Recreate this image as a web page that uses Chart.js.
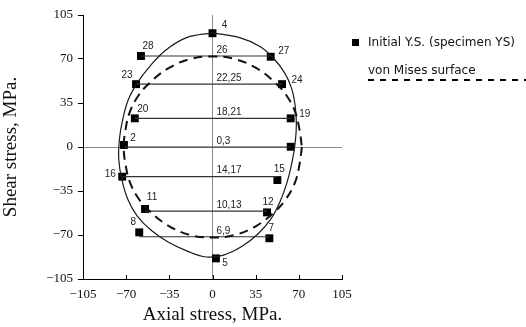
<!DOCTYPE html>
<html>
<head>
<meta charset="utf-8">
<script src="https://cdn.jsdelivr.net/npm/chart.js@4/dist/chart.umd.min.js"></script>
<style>
  html, body { margin: 0; padding: 0; background: #fff; }
  #wrap { width: 526px; height: 327px; position: relative; }
</style>
</head>
<body>
<div id="wrap"><canvas id="c" width="526" height="327"></canvas></div>
<script>
// ---- data ----
const axisTicks = [-105, -70, -35, 0, 35, 70, 105];

// Initial yield points (specimen YS)
const pointLabels = ['4', '28', '27', '23', '24', '20', '19', '2', '', '16', '15', '11', '12', '8', '7', '5'];
const pointX = [0, -58, 47.2, -62, 56.4, -63, 63.4, -71.8, 63.4, -73.2, 52.6, -54.7, 44.2, -59.4, 46.1, 2.8];
const pointY = [90.5, 72.4, 71.8, 50, 50, 22.8, 22.8, 1.6, 0.2, -23.6, -26.3, -49.3, -52, -67.9, -72.6, -88.6];

// Loading path segments
const pairLabels = ['26', '22,25', '18,21', '0,3', '14,17', '10,13', '6,9'];
const pairY = [72.4, 50, 22.8, 0, -23.6, -51, -71.4];
const pairFromX = [-58, -62, -63, -71.8, -73.2, -54.7, -59.4];
const pairToX = [47.2, 56.4, 63.4, 63.4, 52.6, 44.2, 46.1];

// Fitted initial yield surface (solid curve)
const surfaceX = [0, 22, 38.5, 50, 58.5, 64, 67, 68, 67, 64.5, 60.5, 55, 47.5, 37, 24, 9, -5, -20, -36, -50, -61, -68.5, -73.5, -76, -75.5, -73, -68.5, -61, -51, -38, -21, 0];
const surfaceY = [90.8, 87, 80, 70, 59, 47, 33, 18, 3, -12, -28, -43, -57, -69, -79, -86, -87.5, -83, -75.5, -66, -55, -42, -26, -10, 6, 21, 37, 51, 64, 77, 87, 90.8];

// von Mises surface (dashed curve)
const misesX = [72.5, 70.5, 67, 59.5, 51, 36, 18, 0, -18, -36, -51, -60, -67, -70.5, -72, -70.5, -67, -60, -51, -36, -18, 0, 18, 36, 51, 60, 67, 70.5, 72.5];
const misesY = [0, -14, -28, -41.5, -51, -62.5, -70, -72, -70, -62.5, -51, -41, -28, -14, 0, 14, 28, 41, 51, 62.5, 70, 72, 70, 62.5, 51, 41, 28, 14, 0];

// ---- build datasets ----
const toXY = (xs, ys) => xs.map((x, i) => ({ x: x, y: ys[i] }));

const datasets = [];
datasets.push({
  label: 'surface',
  data: toXY(surfaceX, surfaceY),
  showLine: true, tension: 0.4, pointRadius: 0,
  borderColor: '#1a1a1a', borderWidth: 1.2, fill: false
});
datasets.push({
  label: 'von Mises surface',
  data: toXY(misesX, misesY),
  showLine: true, tension: 0.4, pointRadius: 0,
  borderColor: '#111', borderWidth: 2, borderDash: [9, 6], fill: false
});
pairLabels.forEach((lab, i) => {
  datasets.push({
    label: 'path ' + lab,
    data: [{ x: pairFromX[i], y: pairY[i] }, { x: pairToX[i], y: pairY[i] }],
    showLine: true, tension: 0, pointRadius: 0,
    borderColor: '#333', borderWidth: 1.1, fill: false,
    pairText: lab
  });
});
datasets.push({
  label: 'Initial Y.S. (specimen YS)',
  data: toXY(pointX, pointY),
  showLine: false, pointStyle: 'rect', pointRadius: 5.6,
  backgroundColor: '#000', borderColor: '#000', borderWidth: 0,
  pointLabels: pointLabels
});

// ---- plugins ----
const labelOffsets = {
  '4': [12, -8], '28': [7, -10], '27': [13, -5], '23': [-9, -9], '24': [15, -4],
  '20': [8, -9], '19': [14, -4], '2': [9, -7], '16': [-12, -2], '15': [2, -11],
  '11': [7, -12], '12': [1, -10], '8': [-6, -10], '7': [2, -10], '5': [9, 5]
};

const annotate = {
  id: 'annotate',
  afterDatasetsDraw(chart) {
    const ctx = chart.ctx;
    const xs = chart.scales.x, ys = chart.scales.y;
    ctx.save();
    ctx.fillStyle = '#222';
    ctx.font = '10px "Liberation Sans", Arial, sans-serif';
    chart.data.datasets.forEach(ds => {
      if (ds.pointLabels) {
        ds.data.forEach((p, i) => {
          const t = ds.pointLabels[i];
          if (!t) return;
          const off = labelOffsets[t] || [8, -8];
          ctx.textAlign = 'center';
          ctx.textBaseline = 'middle';
          ctx.fillText(t, xs.getPixelForValue(p.x) + off[0], ys.getPixelForValue(p.y) + off[1]);
        });
      }
      if (ds.pairText) {
        ctx.textAlign = 'left';
        ctx.textBaseline = 'bottom';
        ctx.fillText(ds.pairText, xs.getPixelForValue(0) + 4, ys.getPixelForValue(ds.data[0].y) - 1);
      }
    });
    // inner ticks on x axis
    ctx.strokeStyle = '#000';
    ctx.lineWidth = 1;
    ctx.beginPath();
    xs.ticks.forEach(t => {
      const px = Math.round(xs.getPixelForValue(t.value)) + 0.5;
      ctx.moveTo(px, xs.top);
      ctx.lineTo(px, xs.top - 4);
    });
    ctx.stroke();
    ctx.restore();
  }
};

const customLegend = {
  id: 'customLegend',
  afterDraw(chart) {
    const ctx = chart.ctx;
    const dsPts = chart.data.datasets.find(d => d.pointLabels);
    const dsMises = chart.data.datasets[1];
    ctx.save();
    ctx.fillStyle = '#000';
    ctx.fillRect(352, 39, 7, 7);
    ctx.font = '12px "DejaVu Sans", sans-serif';
    ctx.fillStyle = '#111';
    ctx.textAlign = 'left';
    ctx.textBaseline = 'middle';
    ctx.fillText(dsPts.label, 368, 43);
    ctx.fillText(dsMises.label, 368, 71);
    ctx.strokeStyle = '#000';
    ctx.lineWidth = 2;
    ctx.setLineDash([6, 6]);
    ctx.beginPath();
    ctx.moveTo(368, 80);
    ctx.lineTo(526, 80);
    ctx.stroke();
    ctx.restore();
  }
};

const fmt = v => String(v).replace('-', '\u2212');
const setTicks = scale => { scale.ticks = axisTicks.map(v => ({ value: v })); };
const zeroGrid = c => (c.tick && c.tick.value === 0) ? '#8a8a8a' : 'rgba(0,0,0,0)';
const serif = '"Liberation Serif", "Times New Roman", serif';

new Chart(document.getElementById('c'), {
  type: 'scatter',
  data: { datasets: datasets },
  options: {
    responsive: false,
    animation: false,
    events: [],
    layout: { padding: { top: 15, right: 184, left: 0, bottom: 0 } },
    plugins: { legend: { display: false }, tooltip: { enabled: false } },
    scales: {
      x: {
        type: 'linear', min: -105, max: 105,
        afterBuildTicks: setTicks,
        afterFit: s => { s.height = 48; },
        grid: { color: zeroGrid, lineWidth: 1, drawTicks: false },
        border: { display: true, color: '#000', width: 1 },
        ticks: { callback: fmt, color: '#111', padding: 8, maxRotation: 0, font: { family: serif, size: 13 } },
        title: { display: true, text: 'Axial stress, MPa.', color: '#111', padding: { top: 0, bottom: 1 }, font: { family: serif, size: 19 } }
      },
      y: {
        type: 'linear', min: -105, max: 105,
        afterBuildTicks: setTicks,
        afterFit: s => { s.width = 83; },
        grid: { color: zeroGrid, lineWidth: 1, drawTicks: true, tickLength: 5, tickColor: '#000' },
        border: { display: true, color: '#000', width: 1 },
        ticks: { callback: fmt, color: '#111', padding: 5, font: { family: serif, size: 13 } },
        title: { display: true, text: 'Shear stress, MPa.', color: '#111', padding: { top: 0, bottom: 14 }, font: { family: serif, size: 19 } }
      }
    }
  },
  plugins: [annotate, customLegend]
});
</script>
</body>
</html>
